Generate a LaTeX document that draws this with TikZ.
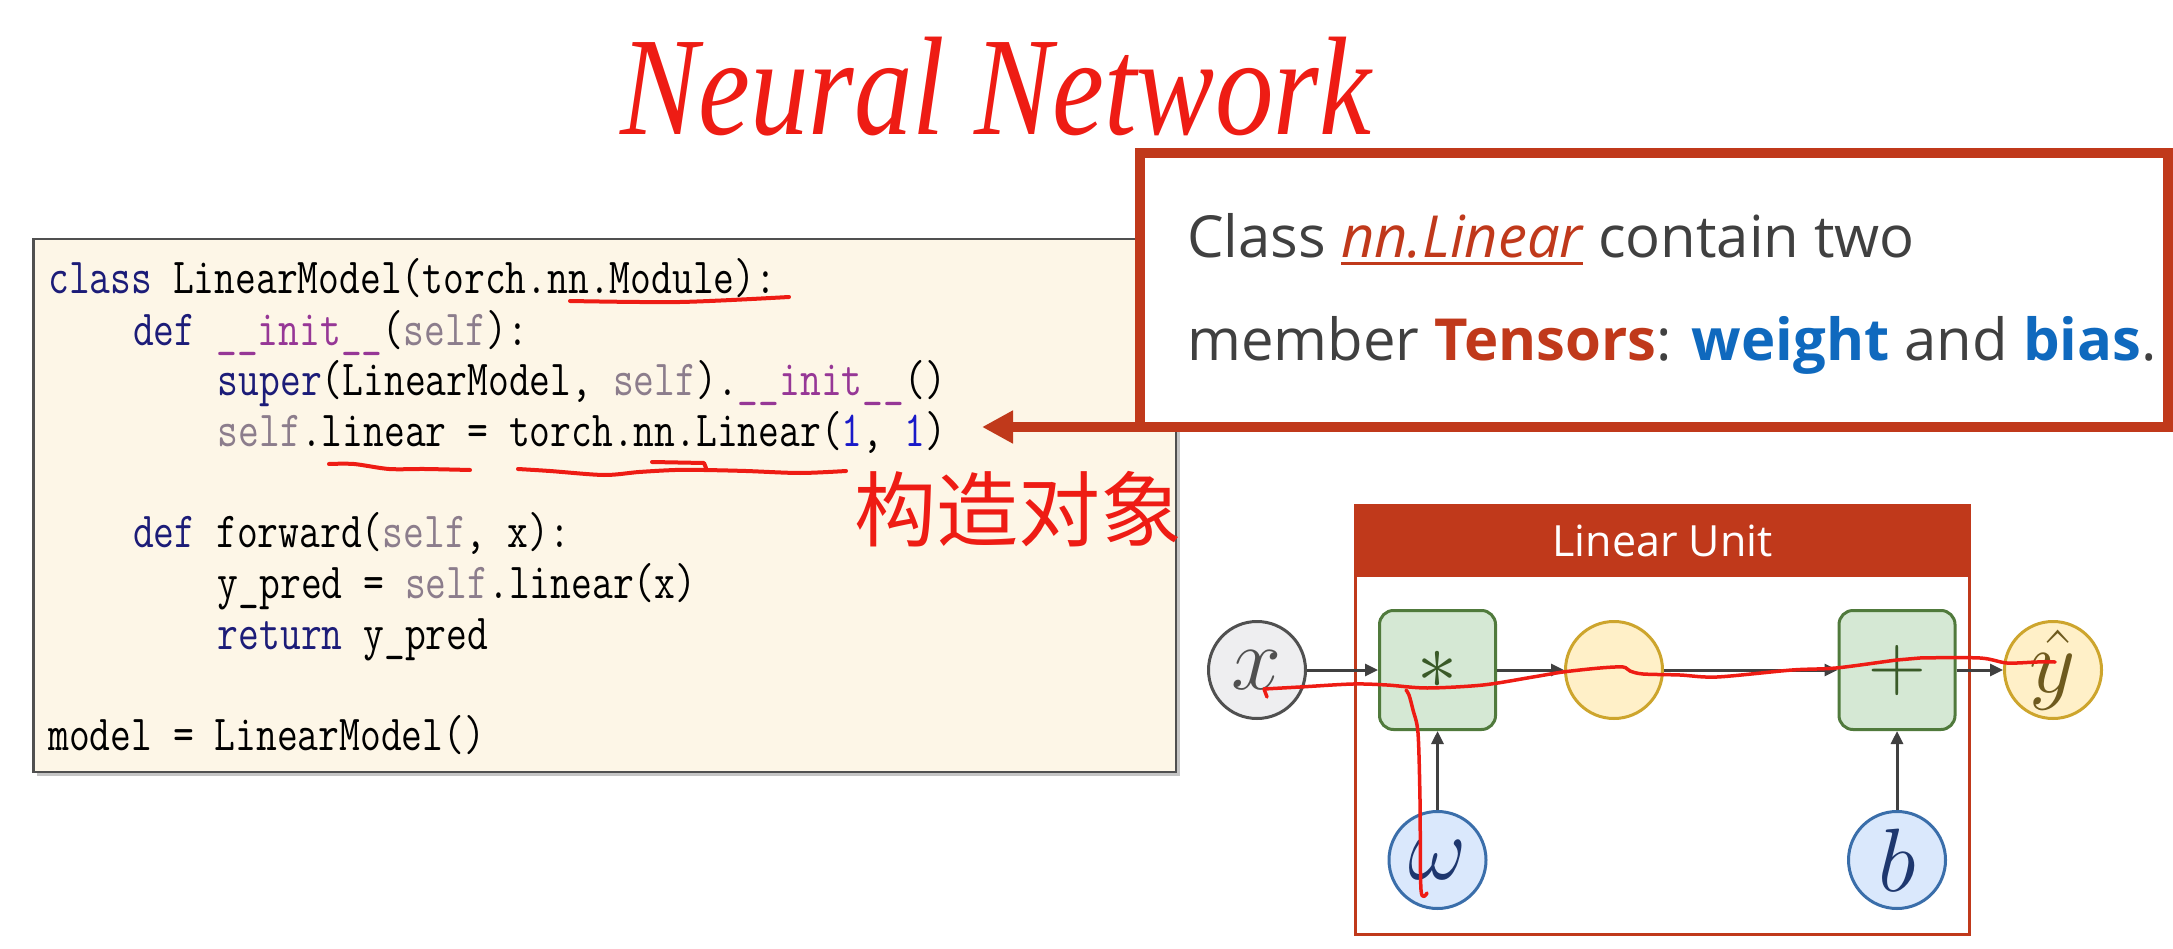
\documentclass[tikz,border=0pt]{standalone}
\usepackage{fix-cm}
\usepackage{graphicx}
\usepackage{fontspec}
\newfontfamily\slidefont{Open Sans}
\newfontfamily\handfont{Liberation Serif}
\newfontfamily\cjk{Noto Sans CJK SC}
\usepackage{xcolor}
\usepackage{tikz}
\usetikzlibrary{arrows.meta,shadows}

\definecolor{callred}{RGB}{192,57,27}
\definecolor{callblue}{RGB}{15,105,190}
\definecolor{slidegray}{RGB}{64,64,64}
\definecolor{codebg}{RGB}{253,246,231}
\definecolor{kw}{RGB}{28,28,120}
\definecolor{slf}{RGB}{140,125,140}
\definecolor{magic}{RGB}{150,55,150}
\definecolor{num}{RGB}{25,25,200}
\definecolor{inkred}{RGB}{238,28,20}
\definecolor{grfill}{RGB}{213,232,212}
\definecolor{grline}{RGB}{80,122,60}
\definecolor{grtext}{RGB}{58,90,40}
\definecolor{blfill}{RGB}{218,232,252}
\definecolor{blline}{RGB}{58,110,170}
\definecolor{bltext}{RGB}{30,55,110}
\definecolor{ylfill}{RGB}{255,240,200}
\definecolor{ylline}{RGB}{205,165,45}
\definecolor{yltext}{RGB}{110,90,30}
\definecolor{gyfill}{RGB}{238,238,240}
\definecolor{gyline}{RGB}{80,80,80}
\definecolor{arrgray}{RGB}{64,64,64}

\newcommand{\cd}[1]{\scalebox{0.8}[1]{#1}}
\newcommand{\redul}[1]{\sbox0{#1}\rlap{\rule[-7pt]{\wd0}{3pt}}\usebox0}

\begin{document}
\begin{tikzpicture}[x=1pt,y=-1pt,
  codebox/.style={rectangle, draw=gyline, line width=2.5pt, fill=codebg, minimum width=1142.5pt, minimum height=532.5pt, inner sep=0pt, drop shadow={shadow xshift=4pt, shadow yshift=-4pt, fill=black!45}},
  code/.style={anchor=base west, inner sep=0pt, font=\fontsize{50.5}{50.5}\selectfont\ttfamily},
  callbox/.style={rectangle, draw=callred, line width=10pt, fill=white, minimum width=1028pt, minimum height=274pt, inner sep=0pt, outer sep=0pt},
  slide/.style={anchor=base west, inner sep=0pt, text=slidegray, font=\slidefont\fontsize{58}{58}\selectfont},
  bigarrow/.style={callred, line width=10pt, -{Triangle[length=31pt,width=31pt]}},
  lubox/.style={rectangle, draw=callred, line width=3pt, minimum width=614pt, minimum height=429pt, inner sep=0pt},
  luhead/.style={rectangle, fill=callred, text=white, minimum width=617pt, minimum height=73pt, inner sep=0pt, font=\slidefont\fontsize{43}{43}\selectfont},
  unitnode/.style={circle, minimum size=97pt, inner sep=0pt, line width=3pt, font=\fontsize{90}{90}\selectfont},
  innode/.style={unitnode, draw=gyline, fill=gyfill, text=gyline},
  midnode/.style={unitnode, draw=ylline, fill=ylfill},
  outnode/.style={unitnode, draw=ylline, fill=ylfill, text=yltext},
  parnode/.style={unitnode, draw=blline, fill=blfill, text=bltext},
  opnode/.style={rectangle, rounded corners=14pt, minimum width=116pt, minimum height=119pt, inner sep=0pt, line width=3pt, draw=grline, fill=grfill, text=grtext, font=\fontsize{80}{80}\selectfont},
  ink/.style={draw=inkred, line width=3.5pt, line cap=round, line join=round},
  hand/.style={anchor=base west, inner sep=0pt, text=inkred, font=\handfont\itshape\fontsize{117}{117}\selectfont},
  zh/.style={anchor=base west, inner sep=0pt, text=inkred, font=\cjk\fontsize{82}{82}\selectfont}]
\useasboundingbox (0,0) rectangle (2173,949);
\fill[white] (0,0) rectangle (2173,949);

% code panel
\node[codebox] (code) at (604.5,505.5) {};
\node[code] (l1) at (48,294) {\cd{{\color{kw}class} LinearModel(torch.nn.Module):}};
\node[code] (l2) at (132.8,345) {\cd{{\color{kw}def} {\color{magic}\_\_init\_\_}({\color{slf}self}):}};
\node[code] (l3) at (217.6,395.5) {\cd{{\color{kw}super}(LinearModel, {\color{slf}self}).{\color{magic}\_\_init\_\_}()}};
\node[code] (l4) at (217.6,446) {\cd{{\color{slf}self}.linear = torch.nn.Linear({\color{num}1}, {\color{num}1})}};
\node[code] (l6) at (132.8,547.5) {\cd{{\color{kw}def} forward({\color{slf}self}, x):}};
\node[code] (l7) at (217.6,598) {\cd{y\_pred = {\color{slf}self}.linear(x)}};
\node[code] (l8) at (217.6,649) {\cd{{\color{kw}return} y\_pred}};
\node[code] (l10) at (48,750) {\cd{model = LinearModel()}};

% pen marks on the code
\draw[ink, line width=4pt] plot[smooth] coordinates {(570,301) (680,302) (789,297)};
\draw[ink, line width=4pt] plot[smooth] coordinates {(329,464) (354,464) (389,469) (425,469) (470,470)};
\draw[ink, line width=4pt] plot[smooth] coordinates {(518,469) (550,471) (604,475) (639,472) (675,470) (704,470) (746,471) (800,473) (846,471)};
\draw[ink, line width=4pt] (652,462) -- (704,463) -- (706,468);
\node[zh] (note) at (854,540) {构造对象};

% callout
\node[callbox] (call) at (1654,290) {};
\node[slide] (c1) at (1187,258) {Class {\color{callred}\itshape\redul{nn.Linear}} contain two};
\node[slide] (c2) at (1187,360) {member {\bfseries\color{callred}Tensors}: {\bfseries\color{callblue}weight} and {\bfseries\color{callblue}bias}.};
\coordinate (tip) at (982,427);
\draw[bigarrow] (call.south west) -- (tip);

% linear unit
\node[lubox] (unit) at (1662.5,720) {};
\node[luhead, anchor=north] (head) at (unit.north) {Linear Unit};
\node[innode]		(xin) at (1257,670)	{$x$};
\node[opnode]		(mul) at (1437.5,670)	{$\ast$};
\node[midnode]		(mid) at (1614,670)	{};
\node[opnode]		(add) at (1897,670)	{$+$};
\node[outnode]		(yhat) at (2053,670)	{$\hat{y}$};
\node[parnode]		(w) at (1437.5,860)	{$\omega$};
\node[parnode]		(b) at (1897,860)	{$b$};

\path[->, >={Triangle[length=13pt,width=12pt]}, arrgray, line width=3pt]
	(xin) edge (mul)
	(mul) edge (mid)
	(mid) edge (add)
	(add) edge (yhat)
	(w) edge (mul)
	(b) edge (add);

% pen marks on the unit
\draw[ink] (1267,697) -- (1264,689);
\draw[ink] plot[smooth] coordinates {(1264,689) (1300,687) (1353,684) (1387,685) (1427,688) (1483,685) (1533,677) (1563,672) (1600,668) (1623,667) (1630,671) (1643,674) (1680,675) (1717,677) (1792,670) (1836,668) (1897,660) (1920,658) (1980,658) (2007,663) (2037,662) (2055,662)};
\draw[ink] plot[smooth] coordinates {(1406,690) (1409,695) (1413,710) (1418,733) (1420,800) (1421,890) (1427,893)};

% title
\node[hand] (title) at (620,135) {\scalebox{1}[1.2]{Neural Network}};
\end{tikzpicture}
\end{document}
